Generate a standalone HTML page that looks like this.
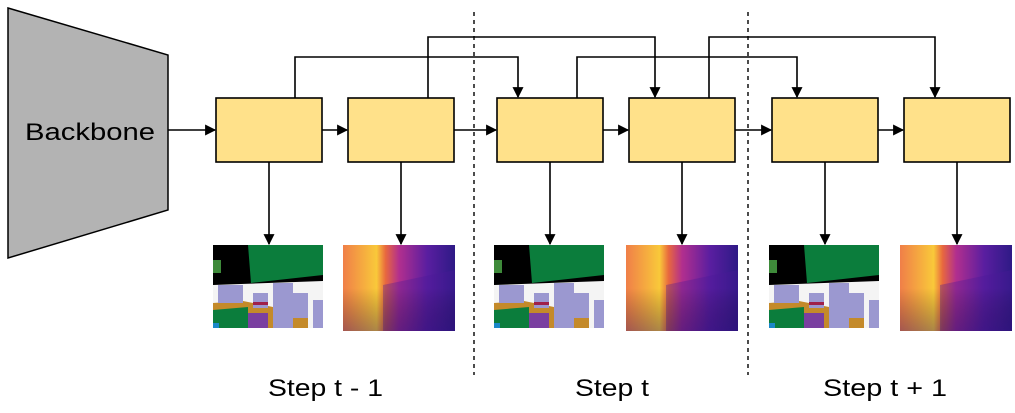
<!DOCTYPE html>
<html><head><meta charset="utf-8"><style>
html,body{margin:0;padding:0;background:#fff;}
svg{display:block;font-family:"Liberation Sans",Arial,sans-serif;}
</style></head><body>
<svg width="1015" height="413" viewBox="0 0 1015 413" xmlns="http://www.w3.org/2000/svg">
<defs>
<marker id="ah" viewBox="0 0 10 10" refX="9" refY="5" markerWidth="12" markerHeight="11" orient="auto" markerUnits="userSpaceOnUse">
<path d="M0,0 L10,5 L0,10 Z" fill="#000"/></marker>
<linearGradient id="dg" x1="0" y1="0" x2="1" y2="0">
<stop offset="0" stop-color="#f07f48"/><stop offset="0.3" stop-color="#f9c93a"/>
<stop offset="0.38" stop-color="#e8683e"/><stop offset="0.5" stop-color="#b22f8e"/>
<stop offset="0.75" stop-color="#5a1ea0"/><stop offset="1" stop-color="#2e1a86"/></linearGradient>
<linearGradient id="dg2" x1="0" y1="0" x2="0" y2="1">
<stop offset="0" stop-color="#000" stop-opacity="0"/><stop offset="0.5" stop-color="#000" stop-opacity="0"/>
<stop offset="1" stop-color="#1a0a60" stop-opacity="0.35"/></linearGradient>
<symbol id="seg" viewBox="0 0 110 83">
<rect width="110" height="83" fill="#000"/>
<polygon points="35,0 110,0 110,30 38,38" fill="#0b7d3c"/>
<rect x="0" y="15" width="8" height="13" fill="#3e8a3a"/>
<polygon points="0,40 110,36 110,83 0,83" fill="#f4f4f4"/>
<polygon points="0,58 30,56 60,62 95,72 95,83 0,83" fill="#c48a2a"/>
<rect x="5" y="40" width="25" height="18" fill="#9b98d0"/>
<rect x="60" y="38" width="20" height="45" fill="#9b98d0"/>
<rect x="80" y="48" width="15" height="25" fill="#9b98d0"/>
<rect x="100" y="55" width="10" height="28" fill="#9b98d0"/>
<rect x="40" y="48" width="15" height="15" fill="#9b98d0"/>
<polygon points="0,65 35,62 35,83 0,83" fill="#0b7d3c"/>
<rect x="35" y="68" width="20" height="15" fill="#7a3fa0"/>
<rect x="0" y="78" width="6" height="5" fill="#1a88c8"/>
<rect x="40" y="57" width="15" height="3" fill="#a0204a"/>
</symbol>
<symbol id="dep" viewBox="0 0 112 86">
<rect width="112" height="86" fill="url(#dg)"/>
<polygon points="40,40 112,25 112,86 40,86" fill="#4a1a98" opacity="0.35"/>
<rect width="112" height="86" fill="url(#dg2)"/>
</symbol>
</defs>
<polygon points="8,8 168,55 168,210 8,258" fill="#b3b3b3" stroke="#000" stroke-width="1.5"/>
<text x="90" y="140" font-size="24" text-anchor="middle" textLength="130" lengthAdjust="spacingAndGlyphs">Backbone</text>
<g stroke="#000" stroke-width="1.6" fill="none">
<line x1="168" y1="130" x2="215" y2="130" marker-end="url(#ah)"/>
<line x1="322" y1="130" x2="347" y2="130" marker-end="url(#ah)"/>
<line x1="454" y1="130" x2="496" y2="130" marker-end="url(#ah)"/>
<line x1="603" y1="130" x2="628" y2="130" marker-end="url(#ah)"/>
<line x1="735" y1="130" x2="771" y2="130" marker-end="url(#ah)"/>
<line x1="878" y1="130" x2="903" y2="130" marker-end="url(#ah)"/>
<polyline points="295,98 295,57 518,57 518,97" marker-end="url(#ah)"/>
<polyline points="428,98 428,37 655,37 655,97" marker-end="url(#ah)"/>
<polyline points="577,98 577,57 797,57 797,97" marker-end="url(#ah)"/>
<polyline points="709,98 709,37 935,37 935,97" marker-end="url(#ah)"/>
<line x1="269" y1="162" x2="269" y2="244" marker-end="url(#ah)"/>
<line x1="401" y1="162" x2="401" y2="244" marker-end="url(#ah)"/>
<line x1="550" y1="162" x2="550" y2="244" marker-end="url(#ah)"/>
<line x1="682" y1="162" x2="682" y2="244" marker-end="url(#ah)"/>
<line x1="825" y1="162" x2="825" y2="244" marker-end="url(#ah)"/>
<line x1="957" y1="162" x2="957" y2="244" marker-end="url(#ah)"/>
<line x1="474" y1="12" x2="474" y2="375" stroke-dasharray="4,4" stroke-width="1.4"/>
<line x1="748" y1="12" x2="748" y2="375" stroke-dasharray="4,4" stroke-width="1.4"/>
</g>
<g fill="#ffe18a" stroke="#000" stroke-width="1.6">
<rect x="216" y="98" width="106" height="64"/>
<rect x="348" y="98" width="106" height="64"/>
<rect x="497" y="98" width="106" height="64"/>
<rect x="629" y="98" width="106" height="64"/>
<rect x="772" y="98" width="106" height="64"/>
<rect x="904" y="98" width="106" height="64"/>
</g>
<use href="#seg" x="213" y="245" width="110" height="83"/>
<use href="#dep" x="343" y="245" width="112" height="86"/>
<use href="#seg" x="494" y="245" width="110" height="83"/>
<use href="#dep" x="626" y="245" width="112" height="86"/>
<use href="#seg" x="769" y="245" width="110" height="83"/>
<use href="#dep" x="900" y="245" width="112" height="86"/>
<g font-size="24">
<text x="268" y="396" textLength="115" lengthAdjust="spacingAndGlyphs">Step t - 1</text>
<text x="575" y="396" textLength="74" lengthAdjust="spacingAndGlyphs">Step t</text>
<text x="823" y="396" textLength="124" lengthAdjust="spacingAndGlyphs">Step t + 1</text>
</g>
</svg>
</body></html>
